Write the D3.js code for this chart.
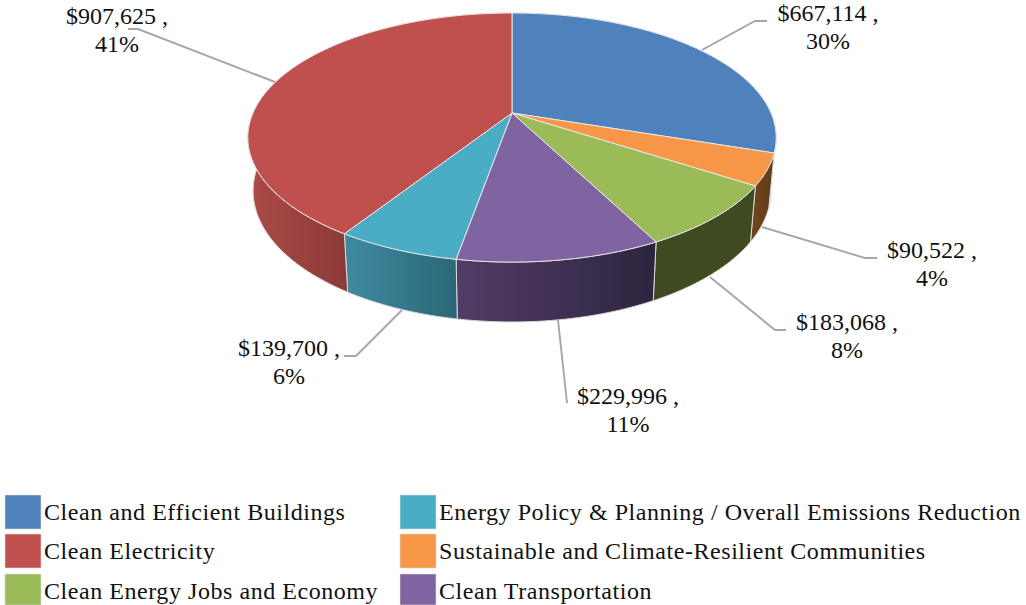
<!DOCTYPE html>
<html><head><meta charset="utf-8">
<script src="https://cdn.jsdelivr.net/npm/d3@7"></script>
<style>html,body{margin:0;padding:0;background:#fff}svg{display:block}text{font-family:"Liberation Serif",serif;fill:#111}</style>
</head><body><svg id="c" width="1026" height="605"></svg>
<script>
const categories=["Clean and Efficient Buildings","Sustainable and Climate-Resilient Communities","Clean Energy Jobs and Economy","Clean Transportation","Energy Policy & Planning / Overall Emissions Reduction","Clean Electricity"];
const values=[667114,90522,183068,229996,139700,907625];
const percentLabels=["30%","4%","8%","11%","6%","41%"];
const topColors=["#4f81bd","#f79646","#9bbb59","#8064a2","#4bacc6","#c0504d"];
const wallLeft=["#4f81bd","#6f431d","#3f4a22","#523d66","#3f8a9f","#ab4c49"];
const wallRight=["#4f81bd","#5f3a18","#3f4a20","#2d2540","#2c6779","#8c3a38"];
const legendOrder=[[0,4],[5,1],[2,3]];
const svg=d3.select("#c"),defs=svg.append("defs");
const pie=d3.pie().sort(null).value(d=>d);
const arcs=pie(values);
const cx=512,cy=113,bx=259,ay=119.7,p=0.197;
function proj(t){const u=Math.sin(t),v=Math.cos(t),w=1+p*v;return [cx+bx*u/w,cy-ay*v/w];}
function low(q){return [cx+(q[0]-cx)*0.98,q[1]+52+0.053*(q[1]-cy)];}
const angles=(a,b)=>d3.range(0,81).map(i=>a+(b-a)*i/80);
const line=d3.line();
const wallG=svg.append("g"),topG=svg.append("g");
arcs.forEach((a,i)=>{
  const ts=angles(a.startAngle,a.endAngle);
  const pts=ts.map(proj);
  const xs=ts.filter(t=>Math.cos(t)<0.2).map(t=>proj(t)[0]);
  const gid="g"+i;
  const g=defs.append("linearGradient").attr("id",gid).attr("gradientUnits","userSpaceOnUse")
    .attr("x1",d3.min(xs)).attr("x2",d3.max(xs)).attr("y1",0).attr("y2",0);
  g.append("stop").attr("offset",0).attr("stop-color",wallLeft[i]);
  g.append("stop").attr("offset",1).attr("stop-color",wallRight[i]);
  wallG.append("path").attr("d",line(pts.concat(pts.map(low).reverse()))+"Z")
    .attr("fill",`url(#${gid})`).attr("stroke","#d9d9d9").attr("stroke-width",1);
});
arcs.forEach((a,i)=>{
  const pts=angles(a.startAngle,a.endAngle).map(proj);
  topG.append("path").attr("d",line([[cx,cy],...pts])+"Z").attr("fill",topColors[i])
    .attr("stroke","#e8e8e8").attr("stroke-width",1).attr("stroke-linejoin","round");
});
const leaderPts=[[[702,50],[755,21],[767,21]],[[762,227],[865,258],[877,258]],[[710,277],[775,330],[786,330]],[[558,320],[567,403]],[[402,310],[356,356],[344,356]],[[275,82],[138,29],[128,29]]];
const labelPos=[[828,21],[932,258],[847,330],[628,404],[289,356],[117,24]];
svg.append("g").selectAll("path").data(leaderPts).join("path").attr("d",d=>line(d)).attr("fill","none").attr("stroke","#a6a6a6").attr("stroke-width",1.9);
const fmt=d3.format("$,");
const lab=svg.append("g").attr("font-size",24).attr("text-anchor","middle");
values.forEach((v,i)=>{
  const [x,y]=labelPos[i];
  const t=lab.append("text").attr("x",x).attr("y",y);
  t.append("tspan").attr("x",x).text(fmt(v)+" ,");
  t.append("tspan").attr("x",x).attr("dy",28).text(percentLabels[i]);
});
const colX=[5,400],textX=[44,439],rowY=[495,534,574],swH=[34,34,31];
const leg=svg.append("g");
legendOrder.forEach((row,r)=>row.forEach((k,c)=>{
  leg.append("rect").attr("x",colX[c]).attr("y",rowY[r]).attr("width",36).attr("height",swH[r]).attr("fill",topColors[k]).attr("stroke","#ddd").attr("stroke-width",.6);
  leg.append("text").attr("x",textX[c]).attr("y",rowY[r]+25).attr("font-size",24).attr("letter-spacing",0.55).text(categories[k]);
}));
</script></body></html>
